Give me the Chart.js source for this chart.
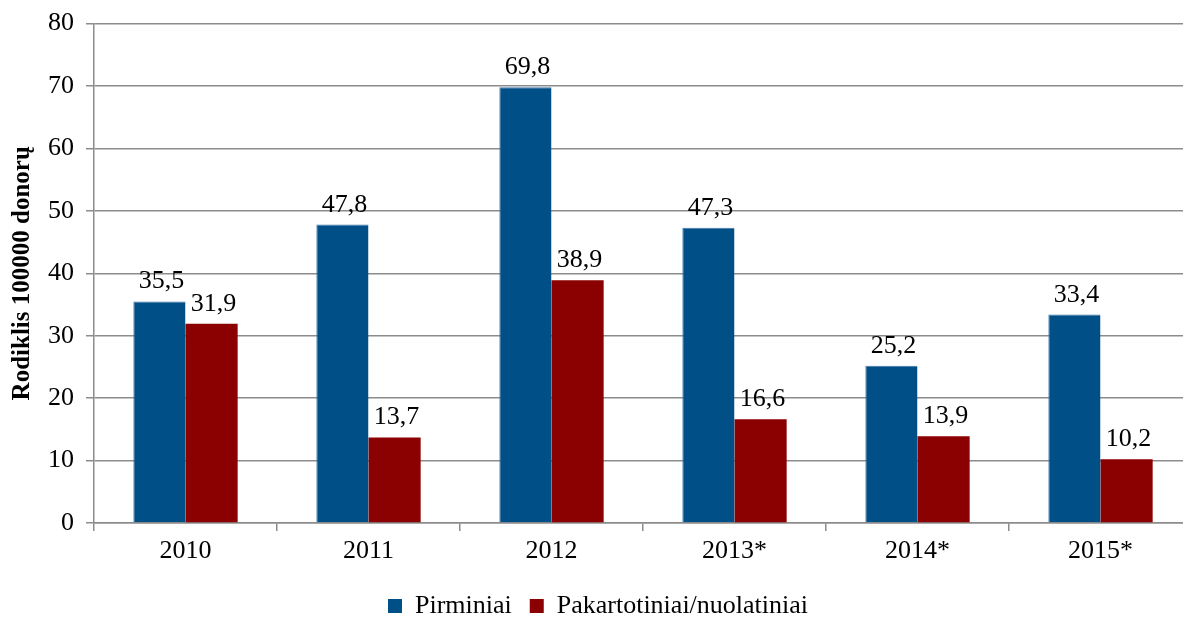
<!DOCTYPE html>
<html>
<head>
<meta charset="utf-8">
<script src="https://cdn.jsdelivr.net/npm/chart.js@4"></script>
<style>
html,body{margin:0;padding:0;background:#fff;overflow:hidden;width:1183px;height:619px;}
#wrap{position:absolute;left:0;top:-4px;width:1200px;height:633px;}
</style>
</head>
<body>
<div id="wrap"><canvas id="c" width="1200" height="633"></canvas></div>
<script>
const categories = ["2010", "2011", "2012", "2013*", "2014*", "2015*"];
const pirminiai = [35.5, 47.8, 69.8, 47.3, 25.2, 33.4];
const pakartotiniai = [31.9, 13.7, 38.9, 16.6, 13.9, 10.2];
const seriesNames = ["Pirminiai", "Pakartotiniai/nuolatiniai"];
const yTicks = [0, 10, 20, 30, 40, 50, 60, 70, 80];
const yTitle = "Rodiklis 100000 donorų";

const FONT = "'Liberation Serif', 'Times New Roman', serif";
const GRID = "#8c8c8c";

const labelPlugin = {
  id: 'valueLabels',
  afterDatasetsDraw(chart) {
    const ctx = chart.ctx;
    ctx.save();
    ctx.font = "26px " + FONT;
    ctx.fillStyle = "#000";
    ctx.textAlign = "center";
    ctx.textBaseline = "alphabetic";
    chart.data.datasets.forEach((ds, i) => {
      const meta = chart.getDatasetMeta(i);
      meta.data.forEach((bar, j) => {
        const txt = ds.data[j].toFixed(1).replace('.', ',');
        ctx.fillText(txt, bar.x + 2, bar.y - 13);
      });
    });
    ctx.restore();
  }
};

new Chart(document.getElementById('c'), {
  type: 'bar',
  data: {
    labels: categories,
    datasets: [
      { label: seriesNames[0], data: pirminiai, backgroundColor: "#004f86", borderColor: "#3b74a8", borderWidth: {left:1, right:0, top:1, bottom:0} },
      { label: seriesNames[1], data: pakartotiniai, backgroundColor: "#8b0000", borderColor: "#8b0000", borderWidth: 0 }
    ]
  },
  options: {
    responsive: false,
    animation: false,
    devicePixelRatio: 1,
    layout: { padding: { left: 4, right: 8, top: 5, bottom: 0 } },
    datasets: { bar: { categoryPercentage: 0.57, barPercentage: 1.0 } },
    plugins: {
      legend: {
        position: 'bottom',
        labels: {
          font: { family: FONT, size: 26 },
          color: "#000",
          boxWidth: 14,
          boxHeight: 14,
          padding: 18,
          generateLabels(chart) {
            return chart.data.datasets.map((ds, i) => ({
              text: ds.label, fillStyle: ds.backgroundColor, strokeStyle: ds.backgroundColor,
              lineWidth: 0, datasetIndex: i, hidden: false
            }));
          }
        }
      },
      tooltip: { enabled: false }
    },
    scales: {
      x: {
        afterFit(scale) { scale.height = 52; },
        grid: { display: true, drawOnChartArea: false, drawTicks: true, tickLength: 8, color: GRID, lineWidth: 1.5, offset: true },
        border: { color: GRID, width: 1.5 },
        ticks: { font: { family: FONT, size: 26 }, color: "#000", padding: 5 }
      },
      y: {
        min: 0, max: 80,
        afterBuildTicks(scale) { scale.ticks = yTicks.map(v => ({ value: v })); },
        afterFit(scale) { scale.width = 90; },
        grid: { color: GRID, lineWidth: 1.5, tickLength: 8 },
        border: { color: GRID, width: 1.5 },
        ticks: { font: { family: FONT, size: 26 }, color: "#000", padding: 12 },
        title: { display: true, text: yTitle, font: { family: FONT, size: 25, weight: 'bold' }, color: "#000", padding: { top: 4, bottom: 0 } }
      }
    }
  },
  plugins: [labelPlugin]
});
</script>
</body>
</html>
